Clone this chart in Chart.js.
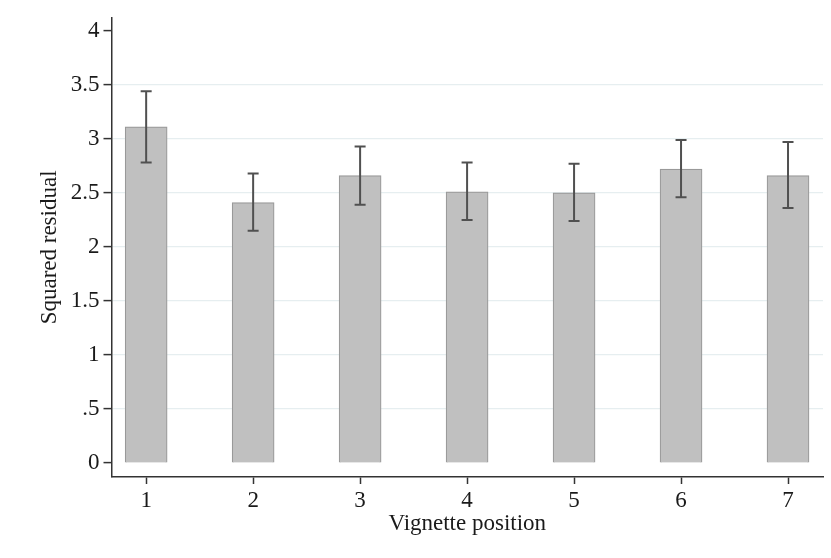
<!DOCTYPE html>
<html>
<head>
  <meta charset="utf-8">
  <title>Squared residual by vignette position</title>
  <script src="https://cdn.jsdelivr.net/npm/chart.js"></script>
  <style>
    body { margin: 0; background: #fff; }
    #wrap { width: 831px; height: 558px; }
  </style>
</head>
<body>
  <div id="wrap"><canvas id="chart" width="831" height="558"></canvas></div>

  <script>
    // Dados
    const positions = [1, 2, 3, 4, 5, 6, 7];
    const meanResid = [3.11, 2.41, 2.66, 2.51, 2.50, 2.72, 2.66];
    const ciUpper = [3.44, 2.68, 2.93, 2.78, 2.77, 2.99, 2.97];
    const ciLower = [2.78, 2.15, 2.39, 2.25, 2.24, 2.46, 2.36];
    const yTicks = [0, 0.5, 1, 1.5, 2, 2.5, 3, 3.5, 4];

    const serif = '"Liberation Serif", "Times New Roman", serif';
    const ink = '#1a1a1a';

    // Barras de erro (intervalo de confianca)
    const errorBars = {
      id: 'errorBars',
      afterDatasetsDraw(chart) {
        const { ctx, scales: { x, y } } = chart;
        ctx.save();
        ctx.strokeStyle = '#505050';
        ctx.lineWidth = 2;
        positions.forEach((p, i) => {
          const px = x.getPixelForValue(p);
          const top = y.getPixelForValue(ciUpper[i]);
          const bot = y.getPixelForValue(ciLower[i]);
          ctx.beginPath();
          ctx.moveTo(px, top); ctx.lineTo(px, bot);
          ctx.moveTo(px - 5.5, top); ctx.lineTo(px + 5.5, top);
          ctx.moveTo(px - 5.5, bot); ctx.lineTo(px + 5.5, bot);
          ctx.stroke();
        });
        ctx.restore();
      }
    };

    const ctx = document.getElementById('chart').getContext('2d');
    new Chart(ctx, {
      type: 'bar',
      data: {
        datasets: [{
          data: positions.map((p, i) => ({ x: p, y: meanResid[i] })),
          backgroundColor: '#c0c0c0',
          borderColor: '#999999',
          borderWidth: 1.2,
          barThickness: 42
        }]
      },
      options: {
        responsive: false,
        animation: false,
        layout: { padding: { left: 0, top: 15, right: 8, bottom: 0 } },
        plugins: { legend: { display: false }, tooltip: { enabled: false } },
        scales: {
          x: {
            type: 'linear',
            offset: false,
            min: 0.676,
            max: 7.327,
            afterBuildTicks: s => { s.ticks = positions.map(v => ({ value: v })); },
            afterFit: s => { s.height = 81; },
            border: { color: '#333', width: 1.5 },
            grid: { offset: false, drawOnChartArea: false, tickLength: 7, tickColor: '#333', tickWidth: 1.5 },
            ticks: { color: ink, font: { family: serif, size: 23 }, padding: 3 },
            title: {
              display: true, text: 'Vignette position', color: ink,
              font: { family: serif, size: 23 }, padding: { top: 0, bottom: 20 }
            }
          },
          y: {
            min: -0.129,
            max: 4.12,
            afterBuildTicks: s => { s.ticks = yTicks.map(v => ({ value: v })); },
            afterFit: s => { s.width = 111.5; },
            border: { color: '#333', width: 1.5 },
            grid: {
              color: c => (c.tick && (c.tick.value === 0 || c.tick.value === 4)) ? 'rgba(0,0,0,0)' : '#e6eef0',
              lineWidth: 1.2,
              tickLength: 8,
              tickColor: '#333',
              tickWidth: 1.5
            },
            ticks: {
              color: ink,
              font: { family: serif, size: 23 },
              padding: 4,
              callback: v => String(v).replace(/^0\./, '.')
            },
            title: {
              display: true, text: 'Squared residual', color: ink,
              font: { family: serif, size: 23 }, padding: { top: 36, bottom: 0 }
            }
          }
        }
      },
      plugins: [errorBars]
    });
  </script>
</body>
</html>
